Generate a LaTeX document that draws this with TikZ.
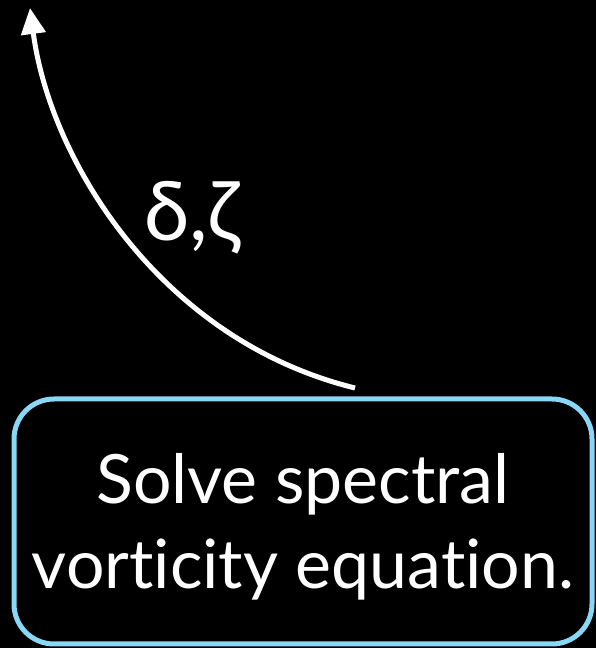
\documentclass[tikz,border=0pt]{standalone}
\usepackage{fontspec}
\setmainfont{Lato}[Ligatures=NoCommon]
\usetikzlibrary{arrows.meta}
\definecolor{boxblue}{RGB}{135,215,245}
\tikzset{
  box/.style={draw=boxblue, line width=5pt, rounded corners=40pt, minimum width=578pt, minimum height=245pt, inner sep=0pt},
  boxtext/.style={align=center, text=white, font=\fontsize{68}{85}\selectfont, inner sep=0pt},
  flow/.style={draw=white, line width=5pt, -{Triangle[length=26pt,width=24pt]}},
  lbl/.style={text=white, font=\fontsize{82}{90}\selectfont}
}
\begin{document}
\begin{tikzpicture}[x=1pt,y=1pt]
\fill[black] (0,0) rectangle (596,648);
\useasboundingbox (0,0) rectangle (596,648);
\node[box] (solve) at (303,126.5) {};
\node[boxtext] (solvetext) at (303,121) {Solve spectral\\vorticity equation.};
\coordinate (start) at (355,260);
\coordinate (end) at (30,640);
\draw[flow] (start) .. controls (160,308) and (50,488) .. (end);
\node[lbl] (dz) at (192,430) {δ,ζ};
\end{tikzpicture}
\end{document}
